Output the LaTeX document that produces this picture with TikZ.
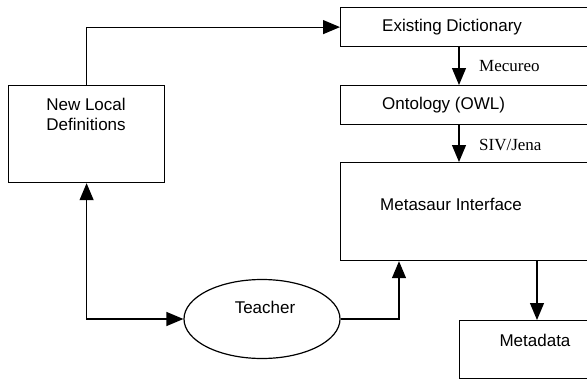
\documentclass[tikz,border=0pt]{standalone}
\usepackage{fontspec}
\setmainfont{Liberation Sans}
\newfontfamily\labelserif{Liberation Serif}
\usetikzlibrary{arrows.meta,shapes.geometric}
\begin{document}
\begin{tikzpicture}[x=1pt,y=-1pt,
  every node/.style={font=\fontsize{17}{20}\selectfont},
  box/.style={draw,line width=1.2pt,rectangle,inner sep=0pt},
  txt/.style={inner sep=0pt},
  lbl/.style={inner sep=0pt,font=\labelserif\fontsize{17}{20}\selectfont},
  arr/.style={line width=1.2pt,-{Triangle[length=17pt,width=14pt]}},
  darr/.style={line width=1.2pt,{Triangle[length=17pt,width=14pt]}-{Triangle[length=17pt,width=14pt]}}]
\clip (0,0) rectangle (587,380);

% boxes (the right-hand column runs past the right edge)
\node[box,anchor=north west,minimum width=156pt,minimum height=97pt] (nld) at (8,85) {};
\node[box,anchor=north west,minimum width=270pt,minimum height=39pt] (ed) at (340,7) {};
\node[box,anchor=north west,minimum width=270pt,minimum height=39pt] (ont) at (340,85) {};
\node[box,anchor=north west,minimum width=270pt,minimum height=98pt] (mi) at (340,162) {};
\node[box,anchor=north west,minimum width=150pt,minimum height=58pt] (md) at (459,320) {};
\node[draw,line width=1.2pt,ellipse,minimum width=156pt,minimum height=79pt,inner sep=0pt] (teacher) at (262,319) {};

% box texts
\node[txt,align=center] (nldt) at (86,114) {New Local\\Definitions};
\node[txt,anchor=west] (edt) at (382,27) {Existing Dictionary};
\node[txt,anchor=west] (ontt) at (382,105) {Ontology (OWL)};
\node[txt,anchor=west] (mit) at (380,204) {Metasaur Interface};
\node[txt] (mdt) at (535,340) {Metadata};
\node[txt] (teachert) at (265,307) {Teacher};

% connectors
\draw[arr] (nld.north) |- (ed.west);
\draw[arr] ([xshift=119pt]ed.south west) -- ([xshift=119pt]ont.north west);
\draw[arr] ([xshift=119pt]ont.south west) -- ([xshift=119pt]mi.north west);
\draw[arr] ([xshift=197pt]mi.south west) -- ([xshift=78pt]md.north west);
\draw[arr] (teacher.east) -| ([xshift=59pt]mi.south west);
\draw[darr] (nld.south) |- (teacher.west);

% connector labels
\node[lbl,anchor=west] (mec) at (479,66) {Mecureo};
\node[lbl,anchor=west] (siv) at (479,145) {SIV/Jena};
\end{tikzpicture}
\end{document}
